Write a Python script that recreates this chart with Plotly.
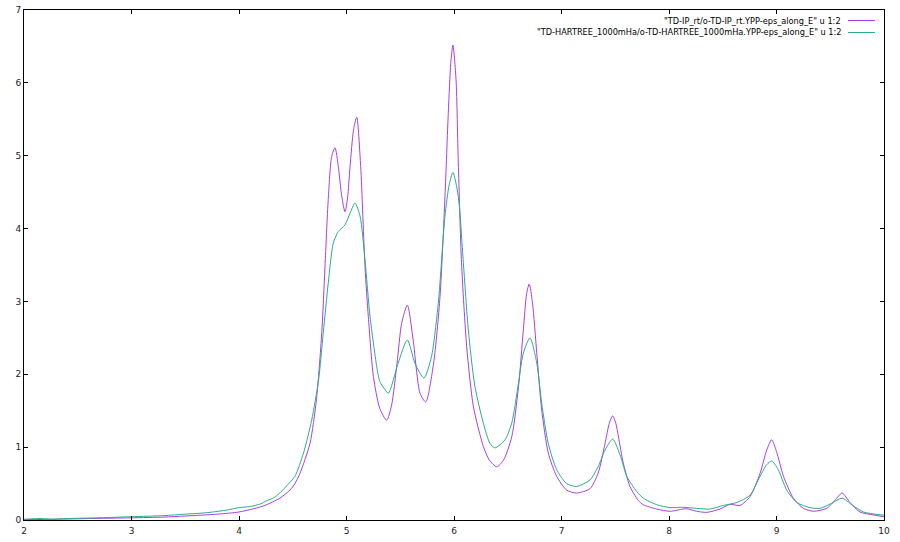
import plotly.graph_objects as go

# ---- data ----
ip_x = [2.0, 2.3, 2.6, 3.0, 3.3, 3.5, 3.8, 4.0, 4.2, 4.288, 4.38, 4.474, 4.52, 4.567, 4.66, 4.72, 4.77,
        4.80, 4.83, 4.862, 4.893, 4.924, 4.955, 4.986, 5.01, 5.033, 5.065, 5.095, 5.132, 5.172,
        5.203, 5.25, 5.31, 5.374, 5.42, 5.47, 5.513, 5.566, 5.62, 5.684, 5.737, 5.81, 5.87, 5.916,
        5.947, 5.97, 5.99, 6.019, 6.04, 6.07, 6.118, 6.18, 6.273, 6.33, 6.397, 6.46, 6.537, 6.6,
        6.645, 6.676, 6.70, 6.73, 6.77, 6.816, 6.877, 6.955, 7.048, 7.14, 7.265, 7.34, 7.405,
        7.445, 7.476, 7.505, 7.53, 7.575, 7.637, 7.714, 7.76, 7.886, 8.01, 8.16, 8.257, 8.35,
        8.474, 8.567, 8.66, 8.753, 8.847, 8.909, 8.955, 9.0, 9.065, 9.157, 9.25, 9.343, 9.467,
        9.544, 9.61, 9.684, 9.777, 9.90, 10.0]
ip_y = [0.005, 0.01, 0.02, 0.03, 0.04, 0.055, 0.08, 0.11, 0.18, 0.23, 0.30, 0.41, 0.50, 0.64, 1.05, 1.65, 2.57,
        3.48, 4.40, 4.99, 5.11, 4.85, 4.45, 4.23, 4.42, 4.85, 5.35, 5.53, 4.85, 3.48,
        2.79, 1.97, 1.53, 1.37, 1.58, 2.15, 2.70, 2.95, 2.47, 1.74, 1.62, 2.15, 3.07, 4.44,
        5.59, 6.27, 6.52, 6.04, 4.90, 3.53, 2.38, 1.56, 1.01, 0.82, 0.73, 0.82, 1.14, 1.83,
        2.61, 3.11, 3.24, 2.98, 2.29, 1.51, 0.92, 0.60, 0.41, 0.37, 0.43, 0.64, 1.05,
        1.33, 1.43, 1.33, 1.14, 0.78, 0.46, 0.27, 0.21, 0.15, 0.12, 0.155, 0.12, 0.105,
        0.15, 0.215, 0.20, 0.32, 0.64, 0.96, 1.10, 0.94, 0.60, 0.30, 0.16, 0.12, 0.16,
        0.27, 0.37, 0.24, 0.11, 0.07, 0.045]

ha_x = [2.0, 2.15, 2.25, 2.4, 2.7, 3.0, 3.3, 3.5, 3.7, 3.9, 4.0, 4.1, 4.2, 4.25, 4.33, 4.4, 4.444,
        4.52, 4.60, 4.676, 4.74, 4.784, 4.83, 4.877, 4.924, 4.986, 5.033, 5.079, 5.126, 5.172,
        5.219, 5.281, 5.31, 5.358, 5.39, 5.48, 5.566, 5.637, 5.72, 5.79, 5.854, 5.916, 5.955,
        5.99, 6.04, 6.087, 6.133, 6.195, 6.273, 6.335, 6.38, 6.474, 6.537, 6.6, 6.645, 6.707,
        6.77, 6.816, 6.877, 6.955, 7.048, 7.14, 7.265, 7.34, 7.405, 7.476, 7.55, 7.607, 7.70,
        7.76, 7.886, 8.01, 8.13, 8.257, 8.38, 8.505, 8.63, 8.753, 8.847, 8.909, 8.955, 9.017,
        9.095, 9.19, 9.312, 9.405, 9.514, 9.61, 9.70, 9.81, 10.0]
ha_y = [0.01, 0.02, 0.012, 0.02, 0.03, 0.045, 0.06, 0.08, 0.10, 0.14, 0.17, 0.185, 0.22, 0.26, 0.31, 0.40, 0.47,
        0.60, 0.92, 1.37, 1.92, 2.57, 3.25, 3.80, 3.96, 4.05, 4.21, 4.35, 4.17, 3.57,
        2.79, 2.11, 1.90, 1.79, 1.74, 2.15, 2.47, 2.15, 1.95, 2.24, 2.98, 4.17, 4.60,
        4.77, 4.44, 3.53, 2.61, 1.83, 1.33, 1.05, 0.99, 1.10, 1.33, 1.88, 2.29, 2.50,
        2.15, 1.60, 1.05, 0.69, 0.50, 0.46, 0.55, 0.73, 0.96, 1.11, 0.87, 0.60, 0.39,
        0.30, 0.21, 0.17, 0.175, 0.16, 0.15, 0.20, 0.24, 0.34, 0.60, 0.76, 0.81, 0.69,
        0.41, 0.24, 0.17, 0.16, 0.23, 0.30, 0.21, 0.11, 0.065]

x_ticks = [2, 3, 4, 5, 6, 7, 8, 9, 10]
y_ticks = [0, 1, 2, 3, 4, 5, 6, 7]

labels = ['"TD-IP_rt/o-TD-IP_rt.YPP-eps_along_E" u 1:2',
          '"TD-HARTREE_1000mHa/o-TD-HARTREE_1000mHa.YPP-eps_along_E" u 1:2']
colors = ["#a93ee6", "#2aad88"]

fig = go.Figure()
fig.add_trace(go.Scatter(x=ip_x, y=ip_y, mode="lines", name=labels[0],
                         line=dict(color=colors[0], width=1, shape="spline", smoothing=0.7)))
fig.add_trace(go.Scatter(x=ha_x, y=ha_y, mode="lines", name=labels[1],
                         line=dict(color=colors[1], width=1, shape="spline", smoothing=0.7)))

W, H = 900, 542
ml, mr, mt, mb = 24, 16, 10, 22
pw, ph = W - ml - mr, H - mt - mb

axis_common = dict(showgrid=False, zeroline=False, showline=True, linecolor="#000000",
                   linewidth=1, mirror="ticks", ticks="inside", ticklen=4, tickcolor="#000000",
                   automargin=False,
                   tickfont=dict(family="DejaVu Sans", size=9, color="#222222"))
fig.update_layout(
    width=W, height=H,
    margin=dict(l=ml, r=mr, t=mt, b=mb, autoexpand=False),
    paper_bgcolor="white", plot_bgcolor="white",
    showlegend=False,
    xaxis=dict(range=[2, 10], tickvals=x_ticks, ticklabelstandoff=2, **axis_common),
    yaxis=dict(range=[0, 7], tickvals=y_ticks, **axis_common),
)

# gnuplot-style key: right-aligned text with line sample to its right
key_y = [20.5, 32.5]
for i in range(2):
    yp = 1 - (key_y[i] - mt) / ph
    fig.add_annotation(xref="paper", yref="paper", x=(843 - ml) / pw, y=yp,
                       xanchor="right", yanchor="middle", showarrow=False,
                       text=labels[i],
                       font=dict(family="DejaVu Sans", size=8.2, color="#000000"))
    fig.add_shape(type="line", xref="paper", yref="paper",
                  x0=(848 - ml) / pw, x1=(875 - ml) / pw, y0=yp, y1=yp,
                  line=dict(color=colors[i], width=1))

fig.write_html("out.html", config={"displayModeBar": False},
               post_script="document.body.style.margin='0';document.body.style.padding='0';")
